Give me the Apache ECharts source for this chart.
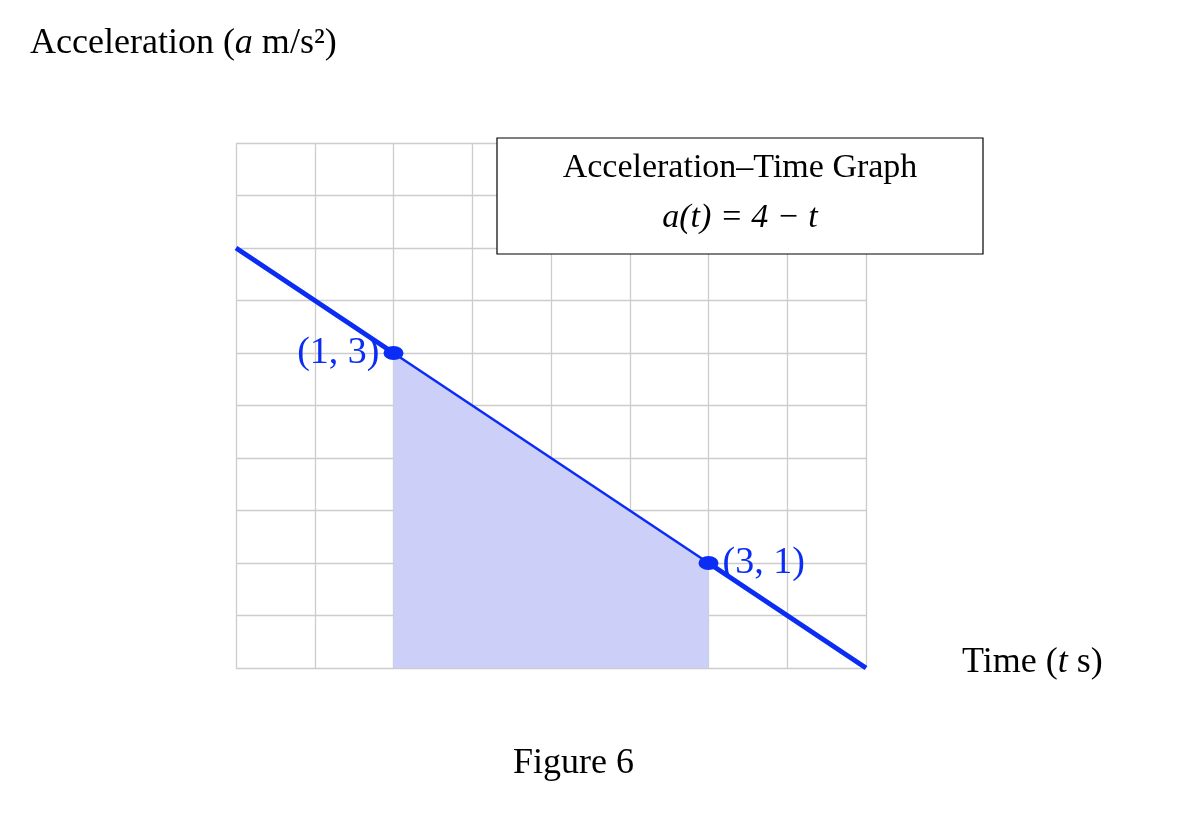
<!DOCTYPE html><html><head><meta charset="utf-8">
<script src="https://cdn.jsdelivr.net/npm/echarts@6/dist/echarts.min.js"></script>
<style>html,body{margin:0;background:#fff}#c{width:1184px;height:832px}</style></head><body><div id="c"></div>
<script>
const thickLeft=[[0,4],[1,3]];
const thinMid=[[1,3],[3,1]];
const thickRight=[[3,1],[4,0]];
const points=[[1,3,'(1, 3)','left'],[3,1,'(3, 1)','right']];
const F='"Liberation Serif","DejaVu Serif",serif';
const blue='#0a2cf5';
const ch=echarts.init(document.getElementById('c'));
const ax={type:'value',axisLabel:{show:false},axisTick:{show:false},axisLine:{show:false},splitLine:{show:true,lineStyle:{color:'#cccccc',width:1.3}}};
ch.setOption({
animation:false,
grid:{left:236,top:143,width:630,height:525},
xAxis:Object.assign({min:0,max:4,interval:0.5},ax),
yAxis:Object.assign({min:0,max:5,interval:0.5},ax),
series:[
{type:'line',data:thinMid,symbol:'none',lineStyle:{color:blue,width:2.5},areaStyle:{color:'#ccd0f8',opacity:1},z:3},
{type:'line',data:thickLeft,symbol:'none',lineStyle:{color:blue,width:5},z:4,clip:false,
 markLine:{silent:true,symbol:['none','arrow'],symbolSize:[16,18],label:{show:false},lineStyle:{color:'#000',width:3,type:'solid'},
 data:[[{coord:[0,0]},{coord:[4.47,0]}],[{coord:[0,0]},{coord:[0,5.45]}]]}},
{type:'line',data:thickRight,symbol:'none',lineStyle:{color:blue,width:5},z:4},
{type:'scatter',data:points.map(p=>({value:[p[0],p[1]],label:{formatter:p[2],position:p[3]}})),symbol:'circle',symbolSize:[20,14],itemStyle:{color:blue,opacity:1},z:6,
 label:{show:true,color:blue,fontFamily:F,fontSize:38,distance:4}}
],
graphic:[
{type:'text',left:30,top:26,style:{text:'Acceleration ({i|a} m/s²)',font:'36px '+F,fill:'#000',rich:{i:{fontStyle:'italic',fontSize:36,fontFamily:F}}}},
{type:'text',left:962,top:645,style:{text:'Time ({i|t} s)',font:'36px '+F,fill:'#000',rich:{i:{fontStyle:'italic',fontSize:36,fontFamily:F}}}},
{type:'text',left:513,top:746,style:{text:'Figure 6',font:'36px '+F,fill:'#000'}},
{type:'rect',shape:{x:497,y:138,width:486,height:116},style:{fill:'#fff',stroke:'#000',lineWidth:1.2},z:10},
{type:'text',x:740,y:168,z:11,style:{text:'Acceleration–Time Graph',font:'34px '+F,fill:'#000',align:'center',verticalAlign:'middle'}},
{type:'text',x:740,y:218,z:11,style:{text:'a(t) = 4 − t',font:'italic 34px '+F,fill:'#000',align:'center',verticalAlign:'middle'}}
]});
</script></body></html>
